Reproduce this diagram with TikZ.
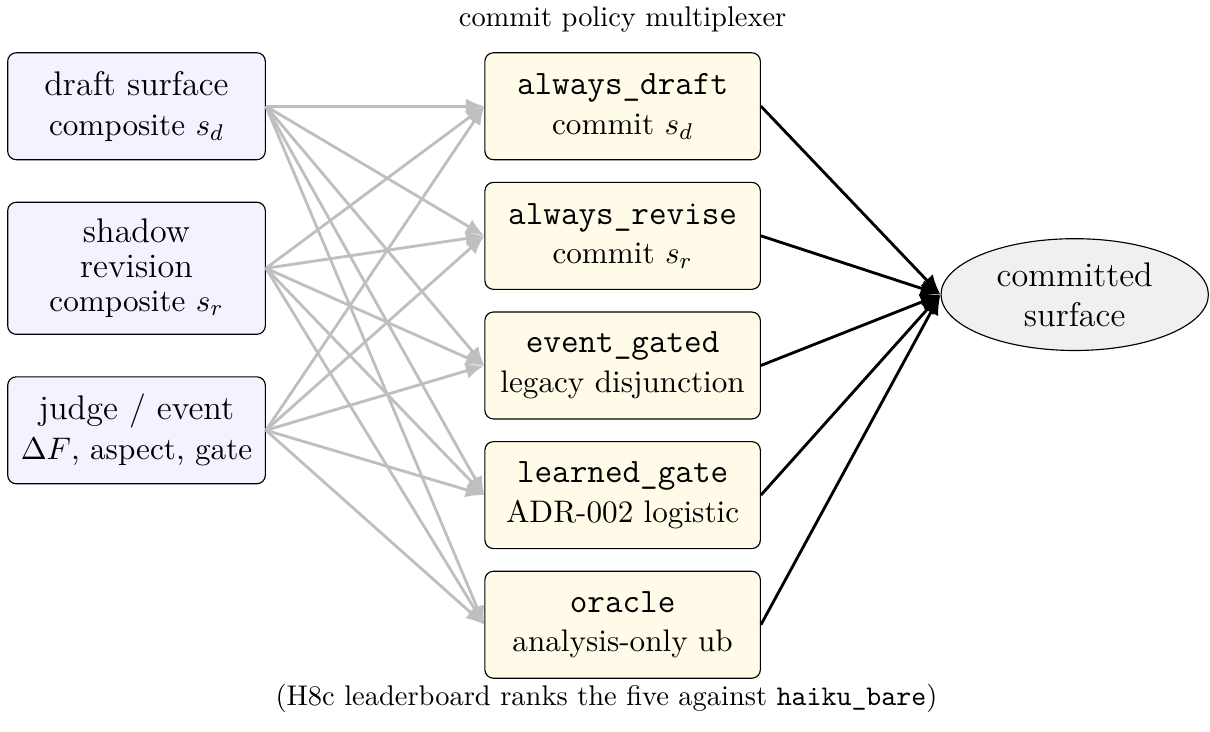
\documentclass[11pt,tikz,border=0pt]{standalone}
\usetikzlibrary{arrows.meta,shapes.geometric}
\definecolor{srcfill}{HTML}{F3F3FF}
\definecolor{polfill}{HTML}{FFFBE8}
\definecolor{outfill}{HTML}{F0F0F0}
\begin{document}
\begin{tikzpicture}[
        src/.style={draw, rounded corners=3pt, fill=srcfill, align=center, font=\large, minimum width=3.18cm, minimum height=1.32cm},
        pol/.style={draw, rounded corners=3pt, fill=polfill, align=center, font=\large, minimum width=3.4cm, minimum height=1.32cm},
        feed/.style={-{Latex[length=6.5pt, width=5.5pt]}, line width=1pt, black!25},
        pick/.style={-{Latex[length=7pt, width=6pt]}, line width=1pt}
    ]
            \useasboundingbox (-1.685, -4.514) rectangle (13.25, 4.511);
            
            \node[anchor=base, font=\small] (title) at (6, 4.18) {commit policy multiplexer};
            
            \node[src] (src0) at (0, 3.2) {draft surface\\{\normalsize composite $s_d$}};
            \node[src, minimum height=1.63cm] (src1) at (0, 1.2) {shadow\\[-2pt]revision\\[-2pt]{\normalsize composite $s_r$}};
            \node[src] (src2) at (0, -0.8) {judge / event\\{\normalsize $\Delta F$, aspect, gate}};
            
            \node[pol] (pol0) at (6, 3.2) {\texttt{always\_draft}\\{\normalsize commit $s_d$}};
            \node[pol] (pol1) at (6, 1.6) {\texttt{always\_revise}\\{\normalsize commit $s_r$}};
            \node[pol] (pol2) at (6, 0) {\texttt{event\_gated}\\{\normalsize legacy disjunction}};
            \node[pol] (pol3) at (6, -1.6) {\texttt{learned\_gate}\\{\normalsize ADR-002 logistic}};
            \node[pol] (pol4) at (6, -3.2) {\texttt{oracle}\\{\normalsize analysis-only ub}};
            
            \node[ellipse, draw, fill=outfill, align=center, font=\large, minimum width=3.3cm, minimum height=1.38cm, inner sep=1pt] (out) at (11.58, 0.875) {committed\\surface};
            
            \node[anchor=base, font=\small] (note) at (5.8, -4.2) {(H8c leaderboard ranks the five against \texttt{haiku\_bare})};
            
            \draw[feed] (src0.east) to (pol0.west);
            \draw[feed] (src0.east) to (pol1.west);
            \draw[feed] (src0.east) to (pol2.west);
            \draw[feed] (src0.east) to (pol3.west);
            \draw[feed] (src0.east) to (pol4.west);
            
            \draw[feed] (src1.east) to (pol0.west);
            \draw[feed] (src1.east) to (pol1.west);
            \draw[feed] (src1.east) to (pol2.west);
            \draw[feed] (src1.east) to (pol3.west);
            \draw[feed] (src1.east) to (pol4.west);
            
            \draw[feed] (src2.east) to (pol0.west);
            \draw[feed] (src2.east) to (pol1.west);
            \draw[feed] (src2.east) to (pol2.west);
            \draw[feed] (src2.east) to (pol3.west);
            \draw[feed] (src2.east) to (pol4.west);
            
            \draw[pick] (pol0.east) to (out.west);
            \draw[pick] (pol1.east) to (out.west);
            \draw[pick] (pol2.east) to (out.west);
            \draw[pick] (pol3.east) to (out.west);
            \draw[pick] (pol4.east) to (out.west);
\end{tikzpicture}
\end{document}
